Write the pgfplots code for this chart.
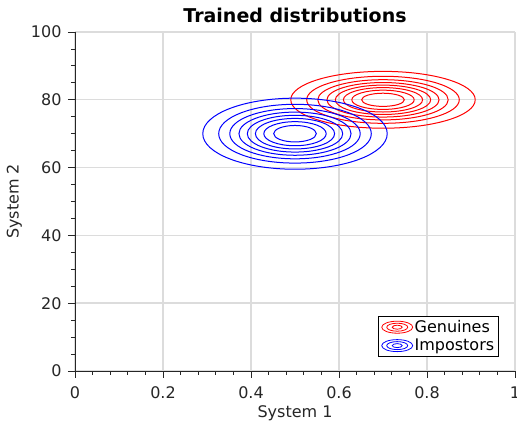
\documentclass[border=0pt]{standalone}
\usepackage{pgfplots}
\pgfplotsset{compat=1.18}
\usepackage{fontspec}
\setmainfont{DejaVu Sans}
\definecolor{axgray}{HTML}{262626}
\definecolor{gridgray}{HTML}{DCDCDC}
\begin{document}
\begin{tikzpicture}
\begin{axis}[
  at={(0pt,0pt)}, anchor=south west,
  scale only axis,
  width=440pt, height=339pt,
  xmin=0, xmax=1, ymin=0, ymax=100,
  xtick={0,0.2,0.4,0.6,0.8,1},
  ytick={0,20,40,60,80,100},
  minor x tick num=4,
  minor y tick num=3,
  axis lines*=left,
  axis line style={draw=axgray, line width=0.8pt, -},
  tick align=outside,
  tick style={draw=axgray, line width=0.8pt},
  major tick length=7pt,
  minor tick length=4pt,
  grid=major,
  major grid style={draw=gridgray, line width=1.4pt},
  /pgf/number format/assume math mode=true,
  tick label style={font=\fontsize{16}{19}\selectfont, text=axgray},
  xticklabel style={yshift=-5pt},
  yticklabel style={xshift=-3pt},
  xlabel={System 1}, ylabel={System 2},
  label style={font=\fontsize{16}{19}\selectfont, text=axgray},
  ylabel style={yshift=2pt},
  title={Trained distributions},
  title style={font=\bfseries\fontsize{19}{22}\selectfont, text=black},
  legend style={at={(0.9636,0.0413)}, anchor=south east, draw=black, line width=0.6pt,
    font=\fontsize{16}{19}\selectfont, inner xsep=3pt, inner ysep=3pt,
    nodes={inner sep=1.5pt}, row sep=2pt},
  legend cell align=left,
]
% Genuines (red), centre (0.7, 80)
\addplot[red, line width=1pt, smooth cycle, tension=1,
  legend image code/.code={
    \draw[red, line width=0.8pt] (16pt,0pt) ellipse [x radius=15.5pt, y radius=6pt];
    \draw[red, line width=0.8pt] (16pt,0pt) ellipse [x radius=10.5pt, y radius=4pt];
    \draw[red, line width=0.8pt] (16pt,0pt) ellipse [x radius=5pt, y radius=2pt];
  }] coordinates {(0.9096,80) (0.7,88.385) (0.4904,80) (0.7,71.615)};
\addlegendentry{Genuines}
\addplot[red, line width=1pt, smooth cycle, tension=1, forget plot] coordinates {(0.8734,80) (0.7,86.938) (0.5266,80) (0.7,73.062)};
\addplot[red, line width=1pt, smooth cycle, tension=1, forget plot] coordinates {(0.8482,80) (0.7,85.929) (0.5518,80) (0.7,74.071)};
\addplot[red, line width=1pt, smooth cycle, tension=1, forget plot] coordinates {(0.8274,80) (0.7,85.094) (0.5726,80) (0.7,74.906)};
\addplot[red, line width=1pt, smooth cycle, tension=1, forget plot] coordinates {(0.8084,80) (0.7,84.337) (0.5916,80) (0.7,75.663)};
\addplot[red, line width=1pt, smooth cycle, tension=1, forget plot] coordinates {(0.7900,80) (0.7,83.602) (0.6100,80) (0.7,76.398)};
\addplot[red, line width=1pt, smooth cycle, tension=1, forget plot] coordinates {(0.7709,80) (0.7,82.836) (0.6291,80) (0.7,77.164)};
\addplot[red, line width=1pt, smooth cycle, tension=1, forget plot] coordinates {(0.7485,80) (0.7,81.941) (0.6515,80) (0.7,78.059)};
% Impostors (blue), centre (0.5, 70)
\addplot[blue, line width=1pt, smooth cycle, tension=1,
  legend image code/.code={
    \draw[blue, line width=0.8pt] (16pt,0pt) ellipse [x radius=15.5pt, y radius=6pt];
    \draw[blue, line width=0.8pt] (16pt,0pt) ellipse [x radius=10.5pt, y radius=4pt];
    \draw[blue, line width=0.8pt] (16pt,0pt) ellipse [x radius=5pt, y radius=2pt];
  }] coordinates {(0.7096,70) (0.5,80.48) (0.2904,70) (0.5,59.52)};
\addlegendentry{Impostors}
\addplot[blue, line width=1pt, smooth cycle, tension=1, forget plot] coordinates {(0.6734,70) (0.5,78.672) (0.3266,70) (0.5,61.328)};
\addplot[blue, line width=1pt, smooth cycle, tension=1, forget plot] coordinates {(0.6482,70) (0.5,77.412) (0.3518,70) (0.5,62.588)};
\addplot[blue, line width=1pt, smooth cycle, tension=1, forget plot] coordinates {(0.6274,70) (0.5,76.368) (0.3726,70) (0.5,63.632)};
\addplot[blue, line width=1pt, smooth cycle, tension=1, forget plot] coordinates {(0.6084,70) (0.5,75.422) (0.3916,70) (0.5,64.578)};
\addplot[blue, line width=1pt, smooth cycle, tension=1, forget plot] coordinates {(0.5900,70) (0.5,74.503) (0.4100,70) (0.5,65.497)};
\addplot[blue, line width=1pt, smooth cycle, tension=1, forget plot] coordinates {(0.5709,70) (0.5,73.545) (0.4291,70) (0.5,66.455)};
\addplot[blue, line width=1pt, smooth cycle, tension=1, forget plot] coordinates {(0.5485,70) (0.5,72.427) (0.4515,70) (0.5,67.573)};
\end{axis}
\pgfresetboundingbox
\useasboundingbox (-75pt,-54pt) rectangle (442pt,371pt);
\end{tikzpicture}
\end{document}
